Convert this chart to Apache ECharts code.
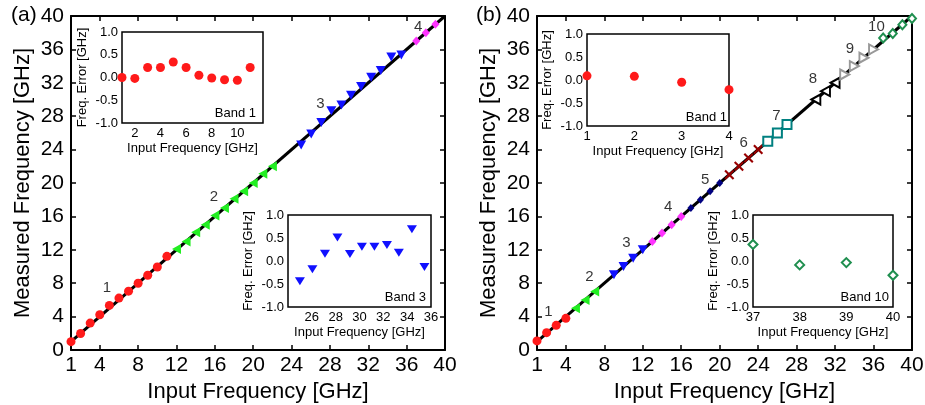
<!DOCTYPE html>
<html>
<head>
<meta charset="utf-8">
<script src="https://cdn.jsdelivr.net/npm/echarts@6/dist/echarts.min.js"></script>
<style>
  html, body { margin: 0; padding: 0; background: #fff; }
  #chart { width: 925px; height: 405px; }
</style>
</head>
<body>
<div id="chart"></div>
<script>
// ---- data, panel (a) ----
const fitIn = [1, 40];
const xTicksMain = [1, 4, 8, 12, 16, 20, 24, 28, 32, 36, 40];

const a1In = [1, 2, 3, 4, 5, 6, 7, 8, 9, 10, 11];
const a1Err = [0.0, -0.02, 0.22, 0.22, 0.34, 0.22, 0.05, -0.01, -0.05, -0.06, 0.22];
const a2In = [12, 13, 14, 15, 16, 17, 18, 19, 20, 21, 22];
const a2Meas = [12.1, 13.0, 14.1, 15.0, 16.1, 17.0, 18.1, 19.0, 20.0, 21.1, 22.0];
const a3In = [25.0, 26.05, 27.1, 28.15, 29.2, 30.2, 31.25, 32.3, 33.3, 34.4, 35.45];
const a3Err = [-0.44, -0.18, 0.16, 0.51, 0.15, 0.31, 0.31, 0.35, 0.18, 0.69, -0.13];
const a4In = [37, 38, 39];
const a4Meas = [37.0, 38.0, 39.0];

// ---- data, panel (b) ----
const b1In = [1, 2, 3, 4];
const b1Err = [0.09, 0.08, -0.05, -0.21];
const b2In = [5, 6, 7];
const b2Meas = [5.0, 6.0, 7.0];
const b3In = [9, 10, 11, 12];
const b3Meas = [9.0, 10.0, 11.0, 12.0];
const b4In = [13, 14, 15, 16];
const b4Meas = [13.0, 14.0, 15.0, 16.0];
const b5In = [17, 18, 19, 20];
const b5Meas = [17.0, 18.0, 19.0, 20.0];
const b6In = [21, 22, 23, 24];
const b6Meas = [21.0, 22.0, 23.0, 24.0];
const b7In = [25, 26, 27];
const b7Meas = [25.0, 26.0, 27.0];
const b8In = [30, 31, 32];
const b8Meas = [30.0, 31.0, 32.0];
const b9In = [33, 34, 35, 36];
const b9Meas = [33.0, 34.0, 35.0, 36.0];
const b10In = [37, 38, 39, 40];
const b10Err = [0.36, -0.085, -0.035, -0.31];

// band number tags (data units)
const tagsA = ['1', '2', '3', '4'];
const tagXA = [4.75, 15.9, 27.0, 37.2];
const tagYA = [7.4, 18.3, 29.5, 38.7];
const tagsB = ['1', '2', '3', '4', '5', '6', '7', '8', '9', '10'];
const tagXB = [2.18, 6.44, 10.3, 14.65, 18.5, 22.5, 25.9, 29.7, 33.55, 36.3];
const tagYB = [4.6, 8.7, 12.85, 17.1, 20.4, 24.75, 28.1, 32.5, 36.1, 38.7];

const FONT = "'Liberation Sans', Arial, Helvetica, sans-serif";
const XPATH = 'path://M0,1.5L1.5,0L5,3.5L8.5,0L10,1.5L6.5,5L10,8.5L8.5,10L5,6.5L1.5,10L0,8.5L3.5,5Z';

function pairs(xs, ys) {
  return xs.map((x, i) => [x, ys[i]]);
}
function withErr(xs, errs) {
  return xs.map((x, i) => [x, x + errs[i]]);
}

function mainX(grid, pos) {
  return {
    gridIndex: grid, type: 'value', position: pos, min: 1, max: 40,
    axisLine: { show: true, onZero: false, lineStyle: { color: '#000', width: 2 } },
    axisTick: { show: true, inside: true, length: 5, customValues: xTicksMain,
      lineStyle: { color: '#000', width: 1.5 } },
    axisLabel: { show: pos === 'bottom', customValues: xTicksMain, color: '#000',
      fontSize: 21, margin: 5, fontFamily: FONT },
    splitLine: { show: false },
    name: pos === 'bottom' ? 'Input Frequency [GHz]' : '',
    nameLocation: 'middle', nameGap: 24,
    nameTextStyle: { fontSize: 22, color: '#000', fontFamily: FONT }
  };
}
function mainY(grid, pos) {
  return {
    gridIndex: grid, type: 'value', position: pos, min: 0, max: 40, interval: 4,
    axisLine: { show: true, onZero: false, lineStyle: { color: '#000', width: 2 } },
    axisTick: { show: true, inside: true, length: 5, lineStyle: { color: '#000', width: 1.5 } },
    axisLabel: { show: pos === 'left', color: '#000', fontSize: 21, margin: 7, fontFamily: FONT },
    splitLine: { show: false },
    name: pos === 'left' ? 'Measured Frequency [GHz]' : '',
    nameLocation: 'middle', nameGap: 37,
    nameTextStyle: { fontSize: 22, color: '#000', fontFamily: FONT }
  };
}
function insetX(grid, min, max, ticks) {
  return {
    gridIndex: grid, type: 'value', min: min, max: max,
    axisLine: { show: false, onZero: false },
    axisTick: { show: false },
    axisLabel: { customValues: ticks, color: '#000', fontSize: 13, margin: 4, fontFamily: FONT },
    splitLine: { show: false },
    name: 'Input Frequency [GHz]', nameLocation: 'middle', nameGap: 19,
    nameTextStyle: { fontSize: 13, color: '#000', fontFamily: FONT }
  };
}
function insetY(grid) {
  return {
    gridIndex: grid, type: 'value', min: -1, max: 1, interval: 0.5,
    axisLine: { show: false, onZero: false },
    axisTick: { show: false },
    axisLabel: { color: '#000', fontSize: 13, margin: 4, fontFamily: FONT,
      formatter: v => v.toFixed(1) },
    splitLine: { show: false },
    name: 'Freq. Error [GHz]', nameLocation: 'middle', nameGap: 33,
    nameTextStyle: { fontSize: 13, color: '#000', fontFamily: FONT }
  };
}

function marks(ax, data, symbol, size, color, rotate, empty) {
  return {
    type: 'scatter', xAxisIndex: ax, yAxisIndex: ax, data: data,
    symbol: symbol, symbolSize: size, symbolRotate: rotate || 0, clip: false, z: 4,
    itemStyle: empty
      ? { color: '#fff', borderColor: color, borderWidth: 2, opacity: 1 }
      : { color: color, opacity: 1 },
    emphasis: { disabled: true }
  };
}
function fitLine(ax) {
  return {
    type: 'line', xAxisIndex: ax, yAxisIndex: ax, data: pairs(fitIn, fitIn),
    symbol: 'none', lineStyle: { color: '#000', width: 3 }, z: 3, silent: true
  };
}
function tagSeries(ax, tags, xs, ys) {
  return {
    type: 'scatter', xAxisIndex: ax, yAxisIndex: ax,
    data: tags.map((t, i) => [xs[i], ys[i], t]),
    symbolSize: 0, itemStyle: { color: 'transparent' }, silent: true, z: 5,
    label: { show: true, position: 'inside', formatter: p => p.value[2],
      color: '#000', fontSize: 15, fontFamily: FONT }
  };
}

const gridBase = { show: false, outerBoundsMode: 'none', containLabel: false };
const insetGrid = { show: true, backgroundColor: '#fff', borderColor: '#000', borderWidth: 1.5,
  outerBoundsMode: 'none', containLabel: false };

const chart = echarts.init(document.getElementById('chart'), null, { renderer: 'canvas' });
chart.setOption({
  animation: false,
  backgroundColor: '#fff',
  textStyle: { fontFamily: FONT },
  grid: [
    Object.assign({ left: 71, top: 16, width: 374, height: 334 }, gridBase),
    Object.assign({ left: 537, top: 16, width: 375, height: 334 }, gridBase),
    Object.assign({ left: 122, top: 32, width: 141, height: 91 }, insetGrid),
    Object.assign({ left: 288, top: 215, width: 143, height: 92 }, insetGrid),
    Object.assign({ left: 587, top: 34, width: 142, height: 92 }, insetGrid),
    Object.assign({ left: 753, top: 215, width: 140, height: 92 }, insetGrid)
  ],
  xAxis: [
    mainX(0, 'bottom'), mainX(0, 'top'), mainX(1, 'bottom'), mainX(1, 'top'),
    insetX(2, 1, 12, [2, 4, 6, 8, 10]),
    insetX(3, 24, 36, [26, 28, 30, 32, 34, 36]),
    insetX(4, 1, 4, [1, 2, 3, 4]),
    insetX(5, 37, 40, [37, 38, 39, 40])
  ],
  yAxis: [
    mainY(0, 'left'), mainY(0, 'right'), mainY(1, 'left'), mainY(1, 'right'),
    insetY(2), insetY(3), insetY(4), insetY(5)
  ],
  graphic: [
    { type: 'text', left: 11, top: 5, style: { text: '(a)', fill: '#000', font: '21px ' + FONT } },
    { type: 'text', left: 476, top: 5, style: { text: '(b)', fill: '#000', font: '21px ' + FONT } },
    { type: 'text', x: 256, y: 113, z: 100, style: { text: 'Band 1', align: 'right', verticalAlign: 'middle', fill: '#000', font: '13px ' + FONT } },
    { type: 'text', x: 426, y: 297, z: 100, style: { text: 'Band 3', align: 'right', verticalAlign: 'middle', fill: '#000', font: '13px ' + FONT } },
    { type: 'text', x: 727, y: 117, z: 100, style: { text: 'Band 1', align: 'right', verticalAlign: 'middle', fill: '#000', font: '13px ' + FONT } },
    { type: 'text', x: 889, y: 297, z: 100, style: { text: 'Band 10', align: 'right', verticalAlign: 'middle', fill: '#000', font: '13px ' + FONT } }
  ],
  series: [
    // panel (a)
    fitLine(0),
    marks(0, withErr(a1In, a1Err), 'circle', 9, '#ff1a1a'),
    marks(0, pairs(a2In, a2Meas), 'triangle', [10, 9], '#22ee22', 90),
    marks(0, withErr(a3In, a3Err), 'triangle', [10, 9], '#1010ff', 180),
    marks(0, pairs(a4In, a4Meas), 'diamond', [8, 9], '#ff33ff'),
    tagSeries(0, tagsA, tagXA, tagYA),
    // panel (b)
    fitLine(2),
    marks(2, withErr(b1In, b1Err), 'circle', 9, '#ff1a1a'),
    marks(2, pairs(b2In, b2Meas), 'triangle', [10, 9], '#22ee22', 90),
    marks(2, pairs(b3In, b3Meas), 'triangle', [10, 9], '#1010ff', 180),
    marks(2, pairs(b4In, b4Meas), 'diamond', [8, 9], '#ff33ff'),
    marks(2, pairs(b5In, b5Meas), 'diamond', [7, 8], '#000080'),
    marks(2, pairs(b6In, b6Meas), XPATH, 10, '#990000'),
    marks(2, pairs(b7In, b7Meas), 'rect', 9, '#008080', 0, true),
    marks(2, pairs(b8In, b8Meas), 'triangle', [10, 9], '#000000', 90, true),
    marks(2, pairs(b9In, b9Meas), 'triangle', [10, 9], '#999999', -90, true),
    marks(2, withErr(b10In, b10Err), 'diamond', [8, 9], '#1f8f4f', 0, true),
    tagSeries(2, tagsB, tagXB, tagYB),
    // insets
    marks(4, pairs(a1In, a1Err), 'circle', 9, '#ff1a1a'),
    marks(5, pairs(a3In, a3Err), 'triangle', [10, 8], '#1010ff', 180),
    marks(6, pairs(b1In, b1Err), 'circle', 9, '#ff1a1a'),
    marks(7, pairs(b10In, b10Err), 'diamond', [9, 9], '#1f8f4f', 0, true)
  ]
});
</script>
</body>
</html>
